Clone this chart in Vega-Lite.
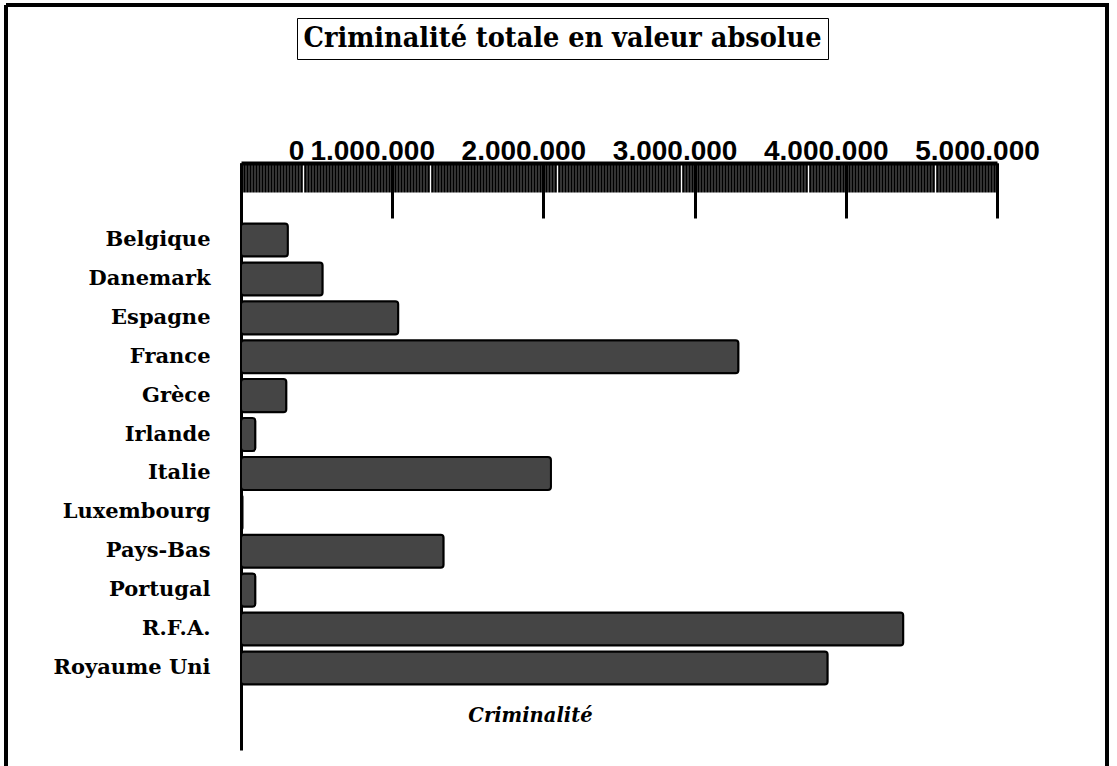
{
  "$schema": "https://vega.github.io/schema/vega-lite/v6.json",
  "width": 1101,
  "height": 761,
  "autosize": {"type": "none"},
  "padding": {"left": 6, "top": 5, "right": 10, "bottom": 0},
  "background": "white",
  "config": {
    "view": {"stroke": "black", "strokeWidth": 4, "strokeDash": [1862, 1101, 761, 0], "fill": "white"}
  },
  "data": {
    "values": [
      {"pays": "Belgique", "criminalite": 310000},
      {"pays": "Danemark", "criminalite": 540000},
      {"pays": "Espagne", "criminalite": 1040000},
      {"pays": "France", "criminalite": 3290000},
      {"pays": "Grèce", "criminalite": 300000},
      {"pays": "Irlande", "criminalite": 95000},
      {"pays": "Italie", "criminalite": 2050000},
      {"pays": "Luxembourg", "criminalite": 10000},
      {"pays": "Pays-Bas", "criminalite": 1340000},
      {"pays": "Portugal", "criminalite": 95000},
      {"pays": "R.F.A.", "criminalite": 4380000},
      {"pays": "Royaume Uni", "criminalite": 3880000}
    ]
  },
  "layer": [
    {
      "mark": {"type": "bar", "stroke": "black", "strokeWidth": 2, "cornerRadius": 3},
      "encoding": {
        "y": {
          "field": "pays", "type": "nominal", "sort": null,
          "scale": {"range": [215.6, 682.4], "paddingInner": 0.15, "paddingOuter": 0.075, "align": 0.5},
          "axis": {
            "orient": "left", "offset": -235, "ticks": false, "domain": false,
            "labelPadding": 31, "labelFont": "DejaVu Serif", "labelFontWeight": "bold",
            "labelFontSize": 21, "labelColor": "black", "labelLimit": 0,
            "title": null, "zindex": 1
          }
        },
        "x": {
          "field": "criminalite", "type": "quantitative",
          "scale": {"domain": [0, 5000000], "range": [235, 991], "nice": false},
          "axis": {
            "orient": "top", "offset": -158,
            "values": [0, 1000000, 2000000, 3000000, 4000000, 5000000],
            "tickSize": -55, "tickWidth": 3, "tickColor": "black",
            "domainColor": "black", "domainWidth": 4,
            "labelPadding": 59, "labelBaseline": "alphabetic",
            "labelFont": "Liberation Sans", "labelFontWeight": "bold", "labelFontSize": 28, "labelColor": "black",
            "labelOffset": {"condition": {"test": "datum.value == 0", "value": 55}, "value": -20},
            "labelExpr": "replace(format(datum.value, ','), regexp(',', 'g'), '.')",
            "labelFlush": false, "labelOverlap": false,
            "title": null, "grid": false, "zindex": 1
          }
        },
        "color": {
          "datum": "Criminalité totale en valeur absolue", "type": "nominal",
          "scale": {"range": ["#454545"]},
          "legend": {
            "orient": "none", "legendX": 291, "legendY": 13, "title": null,
            "padding": 6, "strokeColor": "black", "fillColor": "white",
            "symbolSize": 0, "symbolStrokeWidth": 0, "symbolOpacity": 0, "labelOffset": -28,
            "labelFont": "DejaVu Serif Condensed, DejaVu Serif", "labelFontWeight": "bold",
            "labelFontSize": 28.5, "labelColor": "black", "labelLimit": 0,
            "encode": {"legend": {"update": {"strokeWidth": {"value": 3}}}}
          }
        }
      }
    },
    {
      "mark": {"type": "bar", "opacity": 0},
      "encoding": {
        "y": {
          "field": "pays", "type": "nominal", "sort": null,
          "scale": {"range": [158, 745]},
          "axis": {
            "orient": "left", "offset": -235, "ticks": false, "labels": false,
            "domain": true, "domainColor": "black", "domainWidth": 3,
            "grid": false, "title": null
          }
        },
        "x": {
          "field": "criminalite", "type": "quantitative",
          "axis": {
            "orient": "top", "offset": -158, "tickCount": 250,
            "tickSize": -29, "tickWidth": 2.6, "tickColor": "black",
            "labels": false, "domain": false, "grid": false,
            "title": "Criminalité", "titleX": 524, "titleY": 552,
            "titleAlign": "center", "titleBaseline": "middle", "titleAngle": 0,
            "titleFont": "DejaVu Serif", "titleFontWeight": "bold", "titleFontStyle": "italic",
            "titleFontSize": 19.5, "titleColor": "black"
          }
        }
      }
    }
  ],
  "resolve": {"axis": {"x": "independent"}, "scale": {"y": "independent"}}
}
